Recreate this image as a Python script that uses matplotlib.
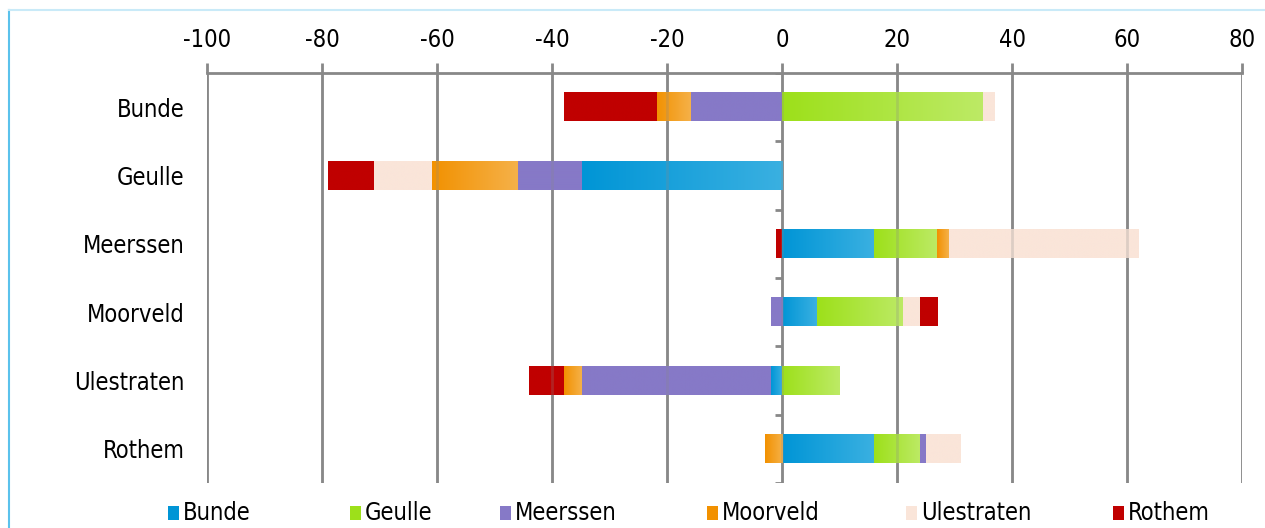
import numpy as np
import matplotlib
matplotlib.use("Agg")
import matplotlib.pyplot as plt
from matplotlib.colors import LinearSegmentedColormap
from matplotlib.lines import Line2D
from matplotlib.patches import Rectangle

plt.rcParams['font.family'] = ['Liberation Sans Narrow', 'DejaVu Sans']
plt.rcParams['font.stretch'] = 'condensed'

# rows (villages) and series (stack pieces)
categories = ['Bunde', 'Geulle', 'Meerssen', 'Moorveld', 'Ulestraten', 'Rothem']
series = ['Bunde', 'Geulle', 'Meerssen', 'Moorveld', 'Ulestraten', 'Rothem']
# values[series][row]
bunde_vals      = [0, -35, 16, 6, -2, 16]
geulle_vals     = [35, 0, 11, 15, 10, 8]
meerssen_vals   = [-16, -11, 0, -2, -33, 1]
moorveld_vals   = [-6, -15, 2, 0, -3, -3]
ulestraten_vals = [2, -10, 33, 3, 0, 6]
rothem_vals     = [-16, -8, -1, 3, -6, 0]
x_ticks = [-100, -80, -60, -40, -20, 0, 20, 40, 60, 80]

values = [bunde_vals, geulle_vals, meerssen_vals, moorveld_vals, ulestraten_vals, rothem_vals]
# left colour, right colour (gradient per piece)
colors = [('#0095d6', '#3ab0e1'), ('#9de01a', '#bdea66'), ('#8679c7', '#8679c7'),
          ('#f29100', '#f5b149'), ('#fae5d9', '#fae5d9'), ('#c00000', '#c00000')]

fig = plt.figure(figsize=(12.65, 5.28), dpi=100)
ax = fig.add_axes([207/1265, 1-483/528, (1242-207)/1265, (483-73)/528])

grid_c = '#888888'
for t in x_ticks:
    ax.axvline(t, color=grid_c, lw=2, zorder=1)

h = 0.41
grad = np.linspace(0, 1, 256).reshape(1, -1)
for i, cat in enumerate(categories):
    pos = 0.0
    neg = 0.0
    for s, vals in enumerate(values):
        v = vals[i]
        if v == 0:
            continue
        if v > 0:
            x0, x1 = pos, pos + v
            pos += v
        else:
            x0, x1 = neg + v, neg
            neg += v
        cmap = LinearSegmentedColormap.from_list('c%d' % s, colors[s])
        ax.imshow(grad, extent=[x0, x1, i - h/2, i + h/2], aspect='auto',
                  cmap=cmap, zorder=2, interpolation='bilinear')

# faint gridlines showing through the bars
for t in x_ticks:
    ax.axvline(t, color=grid_c, lw=2, zorder=3, alpha=0.25)

# small ticks on the zero line between rows
for b in np.arange(-0.5, len(categories), 1.0):
    ax.plot([-1.3, 0], [b, b], color=grid_c, lw=2, zorder=1, solid_capstyle='butt')

ax.set_xlim(-100, 80)
ax.set_ylim(len(categories) - 0.5, -0.5)
ax.set_aspect('auto')

ax.xaxis.tick_top()
ax.set_xticks(x_ticks)
ax.set_xticklabels([str(t) for t in x_ticks], fontsize=17)
ax.tick_params(axis='x', direction='out', length=7, width=2, color=grid_c, pad=8)
ax.set_yticks(range(len(categories)))
ax.set_yticklabels(categories, fontsize=17)
ax.tick_params(axis='y', length=0, pad=16)
for side in ['left', 'right', 'bottom']:
    ax.spines[side].set_visible(False)
ax.spines['top'].set_color(grid_c)
ax.spines['top'].set_linewidth(2)

# legend along the bottom
leg_x = [168, 350, 500, 707, 906, 1113]
for s, name in enumerate(series):
    x = leg_x[s] / 1265
    y = 1 - 520 / 528
    fig.add_artist(Rectangle((x, y), 11/1265, 14/528, transform=fig.transFigure,
                             facecolor=colors[s][0], edgecolor='none'))
    fig.text(x + 15/1265, y + 7/528, name, fontsize=17, va='center', ha='left')

# light blue frame (left and top edges)
fig.add_artist(Line2D([8.5/1265, 8.5/1265], [0, 1 - 10/528], color='#5bc2ec', lw=1.5,
                      transform=fig.transFigure))
fig.add_artist(Line2D([8.5/1265, 1], [1 - 10/528, 1 - 10/528], color='#c9eaf8', lw=1.5,
                      transform=fig.transFigure))

fig.savefig('out.png', dpi=100)
